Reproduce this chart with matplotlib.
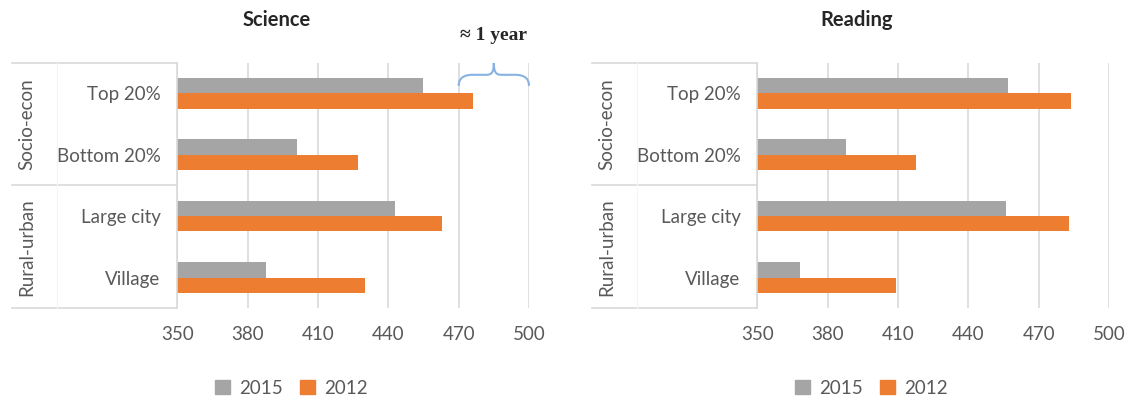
import matplotlib.pyplot as plt
from matplotlib.path import Path
from matplotlib.patches import PathPatch, Patch
from matplotlib.lines import Line2D
import matplotlib.transforms as mtransforms
import numpy as np

categories = ['Top 20%', 'Bottom 20%', 'Large city', 'Village']
groups = ['Socio-econ', 'Rural-urban']
science_2015 = [455, 401, 443, 388]
science_2012 = [476, 427, 463, 430]
reading_2015 = [457, 388, 456, 368]
reading_2012 = [484, 417.5, 483, 409]
ticks = [350, 380, 410, 440, 470, 500]

GRAY = '#a5a5a5'
ORANGE = '#ed7d31'
TXT = '#595959'
LINE = '#d9d9d9'

plt.rcParams['font.family'] = ['Lato', 'DejaVu Sans']

W, H = 1133, 401
fig = plt.figure(figsize=(W / 100, H / 100), dpi=100)


def px(x0, y0, x1, y1):
    return [x0 / W, 1 - y1 / H, (x1 - x0) / W, (y1 - y0) / H]


def panel(ax, v2015, v2012, title, xoff):
    y = np.arange(len(categories))
    h = 0.25
    ax.barh(y - h / 2, [v - 350 for v in v2015], left=350, height=h, color=GRAY, zorder=3)
    ax.barh(y + h / 2, [v - 350 for v in v2012], left=350, height=h, color=ORANGE, zorder=3)
    ax.set_xlim(350, 500)
    ax.set_ylim(len(categories) - 0.5, -0.5)
    ax.set_xticks(ticks)
    ax.set_xticklabels([str(t) for t in ticks], color=TXT, fontsize=13.5)
    ax.set_yticks(y)
    ax.set_yticklabels(categories, color=TXT, fontsize=13.5)
    ax.tick_params(axis='both', length=0)
    ax.tick_params(axis='y', pad=12)
    ax.tick_params(axis='x', pad=13)
    ax.grid(axis='x', color=LINE, linewidth=1.2, zorder=0)
    for s in ['top', 'right', 'bottom']:
        ax.spines[s].set_visible(False)
    ax.spines['left'].set_color(LINE)
    ax.spines['left'].set_linewidth(1.2)
    ax.spines['left'].set_zorder(4)

    # label column: horizontal rules and group names
    x_left = (11.7 - 177.3) / 351.7
    x_sep = (57 - 177.3) / 351.7
    for yy in [1.0, 0.5, 0.0]:
        ax.add_line(Line2D([x_left, 0], [yy, yy], transform=ax.transAxes,
                           color=LINE, linewidth=1.2, clip_on=False))
    ax.add_line(Line2D([x_sep, x_sep], [0, 1], transform=ax.transAxes,
                       color='#f5f5f5', linewidth=0.8, clip_on=False))
    x_grp = (27 - 177.3) / 351.7
    for i, g in enumerate(groups):
        ax.text(x_grp, 0.75 - 0.5 * i, g, transform=ax.transAxes, rotation=90,
                ha='center', va='center', color=TXT, fontsize=13.5)

    fig.text((277 + xoff) / W, 1 - 20 / H, title, ha='center', va='center',
             fontsize=14.5, fontweight='bold', color='#262626')

    handles = [Patch(color=GRAY), Patch(color=ORANGE)]
    fig.legend(handles, ['2015', '2012'], loc='center', ncol=2, frameon=False,
               bbox_to_anchor=((291 + xoff) / W, 1 - 388 / H),
               handlelength=0.8, handleheight=0.8, handletextpad=0.5,
               columnspacing=0.9, prop={'size': 13.5}, labelcolor=TXT)


ax1 = fig.add_axes(px(177.3, 62.5, 529, 308.3))
panel(ax1, science_2015, science_2012, 'Science', 0)
ax2 = fig.add_axes(px(757.3, 62.5, 1109, 308.3))
panel(ax2, reading_2015, reading_2012, 'Reading', 580)

# brace spanning 470-500 over the top bars of the science panel
tr = mtransforms.blended_transform_factory(ax1.transData, ax1.transAxes)
yb, ym, yt = 0.905, 0.950, 0.998
verts = [(470, yb), (470, 0.935), (472, ym), (476, ym),
         (482, ym), (484.3, ym), (485, 0.965), (485, yt),
         (485, 0.965), (485.7, ym), (488, ym),
         (494, ym), (498, ym), (500, 0.935), (500, yb)]
codes = [Path.MOVETO, Path.CURVE4, Path.CURVE4, Path.CURVE4,
         Path.LINETO, Path.CURVE4, Path.CURVE4, Path.CURVE4,
         Path.CURVE4, Path.CURVE4, Path.CURVE4,
         Path.LINETO, Path.CURVE4, Path.CURVE4, Path.CURVE4]
ax1.add_patch(PathPatch(Path(verts, codes), transform=tr, facecolor='none',
                        edgecolor='#86b3e3', linewidth=1.5, clip_on=False, zorder=5))
fig.text(494 / W, 1 - 35 / H, '\u2248 1 year', ha='center', va='center',
         fontsize=14, fontweight='bold', family=['Liberation Serif', 'DejaVu Serif'],
         color='#262626')

fig.savefig('out.png', dpi=100, facecolor='white')
